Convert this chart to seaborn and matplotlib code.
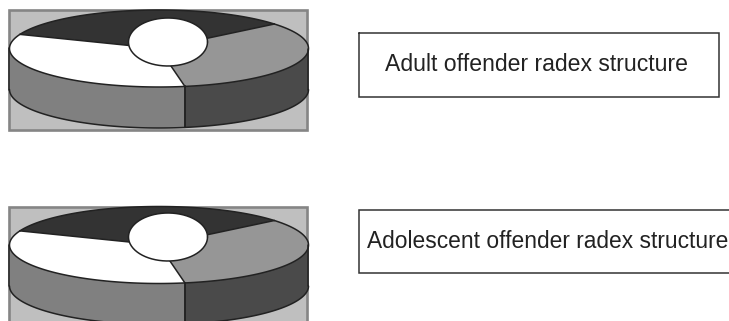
import numpy as np
import matplotlib
matplotlib.use("Agg")
import matplotlib.pyplot as plt
from matplotlib.patches import Rectangle
import pandas as pd
import seaborn as sns

# Shares of the three radex regions (percent), counter-clockwise from the first spoke
regions = ["Region A", "Region B", "Region C"]
adult_shares = [33.05, 33.75, 33.2]
adolescent_shares = [33.05, 33.75, 33.2]
captions = ["Adult offender radex structure", "Adolescent offender radex structure"]

TOP_COLOURS = sns.color_palette(["#333333", "#ffffff", "#969696"])
SIDE_COLOURS = sns.color_palette(["#333333", "#808080", "#4a4a4a"])
LINE = "#222222"
START_ANGLE = 39.5

sns.set_theme(style="white")
plt.rcParams["font.family"] = ["Liberation Sans", "DejaVu Sans"]

fig = plt.figure(figsize=(7.29, 3.21), dpi=100, facecolor="white")
ax = fig.add_axes([0, 0, 1, 1])
ax.set_xlim(0, 729)
ax.set_ylim(321, 0)
ax.axis("off")


def rim(cx, cy, rx, ry, a0, a1, n=120):
    t = np.radians(np.linspace(a0, a1, n))
    return cx + rx * np.cos(t), cy - ry * np.sin(t)


def outline(x, y, width=1.1, zorder=4):
    frame = pd.DataFrame({"x": x, "y": y})
    sns.lineplot(data=frame, x="x", y="y", sort=False, estimator=None,
                 color=LINE, linewidth=width, ax=ax, legend=False, zorder=zorder)


def draw_pie(shares, box, cx, cy, rx, ry, depth, hub_dx, hub_dy, hub_rx, hub_ry):
    x0, y0, w, h = box
    ax.add_patch(Rectangle((x0, y0), w, h, facecolor="#bfbfbf",
                           edgecolor="#858585", linewidth=1.9, zorder=1))
    edges = START_ANGLE + np.concatenate([[0], np.cumsum(shares)]) * 3.6

    # Cylinder wall: only the part of each slice that faces the viewer
    for a0, a1, colour in zip(edges[:-1], edges[1:], SIDE_COLOURS):
        lo, hi = max(a0, 180), min(a1, 360)
        if lo >= hi:
            continue
        xs, ys = rim(cx, cy, rx, ry, lo, hi)
        ax.fill(np.r_[xs, xs[::-1]], np.r_[ys, ys[::-1] + depth],
                facecolor=colour, edgecolor="none", zorder=2)
        outline(xs, ys + depth)
        for px, py in ((xs[0], ys[0]), (xs[-1], ys[-1])):
            outline([px, px], [py, py + depth])

    # Top face slices
    for a0, a1, colour in zip(edges[:-1], edges[1:], TOP_COLOURS):
        xs, ys = rim(cx, cy, rx, ry, a0, a1)
        ax.fill(np.r_[cx, xs], np.r_[cy, ys], facecolor=colour,
                edgecolor="none", zorder=3)
        outline(xs, ys)
        outline([cx, xs[0]], [cy, ys[0]])

    # Central hub
    hx, hy = rim(cx + hub_dx, cy + hub_dy, hub_rx, hub_ry, 0, 360, 200)
    ax.fill(hx, hy, facecolor="white", edgecolor="none", zorder=6)
    outline(hx, hy, zorder=7)


def draw_caption(text, box, text_x, text_y, size, open_right=False):
    x0, y0, w, h = box
    xs = [x0 + w, x0, x0, x0 + w] if open_right else [x0, x0 + w, x0 + w, x0, x0]
    ys = [y0, y0, y0 + h, y0 + h] if open_right else [y0, y0, y0 + h, y0 + h, y0]
    ax.plot(xs, ys, color="#333333", linewidth=1.1, solid_joinstyle="miter", clip_on=False)
    ax.text(text_x, text_y, text, fontsize=size, color="#222222", ha="left", va="center")


draw_pie(adult_shares, (9.5, 10, 298, 120), 159, 48.5, 149.5, 38.5, 41, 9, -6.5, 39.5, 24)
draw_pie(adolescent_shares, (9.5, 206.5, 298, 130), 159, 245, 149.5, 38.5, 41, 9, -8, 39.5, 24)
draw_caption(captions[0], (359.5, 32.5, 360, 64), 385, 64.5, 16.6)
draw_caption(captions[1], (359.5, 209.5, 372, 63.5), 367, 242, 16.4, open_right=True)

ax.set_xlim(0, 729)
ax.set_ylim(321, 0)
ax.set_xlabel("")
ax.set_ylabel("")
fig.savefig("out.png", dpi=100, facecolor="white")
